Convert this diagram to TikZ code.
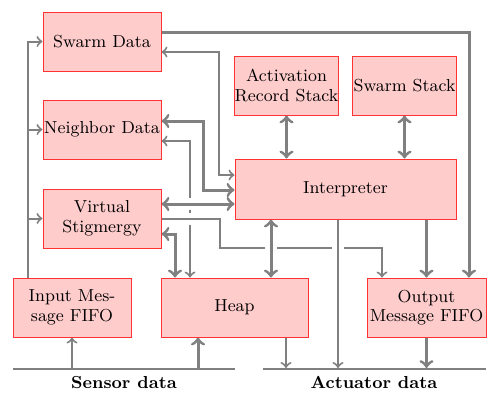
\documentclass[tikz,border=0pt]{standalone}
\usepackage{fontspec}
\usetikzlibrary{calc,backgrounds}
\tikzset{
  box/.style={draw=red!80, fill=red!20, line width=0.5pt, align=center,
    inner xsep=0.3pt, inner ysep=1pt, minimum height=29.5pt,
    font=\fontsize{8.7}{9.8}\selectfont},
  thinline/.style={draw=gray, line width=1pt},
  thickline/.style={draw=gray, line width=1.5pt},
  halo/.style={preaction={draw=white, line width=6pt, arrows=-}},
  lbl/.style={font=\fontsize{8.7}{9.8}\selectfont\bfseries, inner sep=0pt}
}
\begin{document}
\begin{tikzpicture}[x=0.5pt, y=-0.5pt]
\useasboundingbox (0,0) rectangle (499,408);
% boxes
\node[box, minimum width=59pt] (swarm) at (102,41.5) {Swarm Data};
\node[box, minimum width=59pt] (neighbor) at (102,129.5) {Neighbor Data};
\node[box, minimum width=59pt] (vs) at (102,218.5) {Virtual\\Stigmergy};
\node[box, minimum width=51.5pt] (ars) at (286.5,85.5) {Activation\\Record Stack};
\node[box, minimum width=51.5pt] (sstack) at (404.5,85.5) {Swarm Stack};
\node[box, minimum width=110.5pt, minimum height=30pt] (interp) at (345.5,189) {Interpreter};
\node[box, minimum width=59pt] (input) at (72,307.5) {Input Mes-\\sage FIFO};
\node[box, minimum width=73.5pt] (heap) at (234.5,307.5) {Heap};
\node[box, minimum width=59.5pt] (output) at (426.5,307.5) {Output\\Message FIFO};
% data lines
\coordinate (sensL) at (13,368.5);
\coordinate (sensR) at (235,368.5);
\coordinate (actL) at (263,368.5);
\coordinate (actR) at (486,368.5);
\node[lbl] (senslbl) at (124,382.5) {Sensor data};
\node[lbl] (actlbl) at (374,382.5) {Actuator data};

\begin{scope}[on background layer]
% input fifo branches
\draw[thinline,->] ($(input.north west)+(15,0)$) |- (swarm.west);
\draw[thinline,->] ($(input.north west)+(15,0)$) |- (neighbor.west);
\draw[thinline,->] ($(input.north west)+(15,0)$) |- (vs.west);
% swarm data -> output fifo
\draw[thickline,->] ($(swarm.east)+(0,-9.5)$) -| ($(output.north)+(42.5,0)$);
% swarm data <-> interpreter
\draw[thinline,<->] ($(swarm.east)+(0,10.5)$) -| ($(interp.west)+(-16,-14)$) -- ($(interp.west)+(0,-14)$);
% neighbor data <-> interpreter
\draw[thickline,<->] ($(neighbor.east)+(0,-8.5)$) -| ($(interp.west)+(-31,1)$) -- ($(interp.west)+(0,1)$);
% neighbor data <-> heap
\draw[thinline,<->] ($(neighbor.east)+(0,11.5)$) -| ($(heap.north)+(-44.5,0)$);
% virtual stigmergy <-> heap
\draw[thickline,<->] ($(vs.east)+(0,15.5)$) -| ($(heap.north)+(-59.5,0)$);
% virtual stigmergy -> output fifo
\draw[thinline,->,halo] ($(vs.east)+(0,0.5)$) -- ++(58,0) |- ($(output.north)+(-44.5,-30)$) -- ($(output.north)+(-44.5,0)$);
% virtual stigmergy <-> interpreter
\draw[thickline,<->,halo] ($(vs.east)+(0,-14.5)$) -- ($(interp.west)+(0,15)$);
% heap <-> interpreter
\draw[thickline,<->,halo] ($(heap.north)+(36.5,0)$) -- ($(interp.south)+(-74.5,0)$);
% interpreter -> actuator data
\draw[thinline,->,halo] ($(interp.south)+(-7.5,0)$) -- ($(interp.south)+(-7.5,148.5)$);
% interpreter -> output fifo
\draw[thickline,->] ($(interp.south)+(81,0)$) -- (output.north);
% stacks <-> interpreter
\draw[thickline,<->] (ars.south) -- (ars.south |- interp.north);
\draw[thickline,<->] (sstack.south) -- (sstack.south |- interp.north);
% sensor data
\draw[thinline,->] (input.south |- sensL) -- (input.south);
\draw[thickline,->] ($(heap.south)+(-36.5,31.5)$) -- ($(heap.south)+(-36.5,0)$);
% actuator data
\draw[thinline,->] ($(heap.south)+(51.5,0)$) -- ($(heap.south)+(51.5,30.5)$);
\draw[thickline,->] (output.south) -- ($(output.south)+(0,30.5)$);
\end{scope}
\draw[thinline] (sensL) -- (sensR);
\draw[thinline] (actL) -- (actR);
\end{tikzpicture}
\end{document}
